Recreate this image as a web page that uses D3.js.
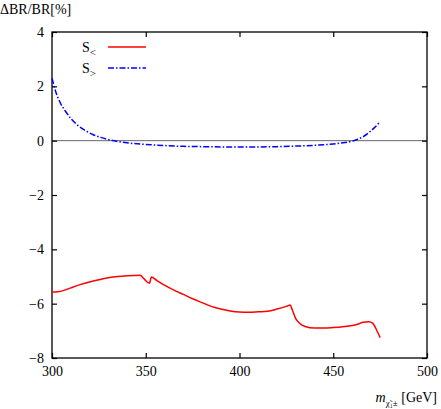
<!DOCTYPE html><html><head><meta charset="utf-8"><script src="https://cdn.jsdelivr.net/npm/d3@7"></script>
<style>body{margin:0;background:#fff}svg text{font-family:"Liberation Serif","DejaVu Serif","Times New Roman",serif !important;font-size:14px}</style></head><body><svg id="c" width="441" height="409"></svg><script>
const xTicks=[300,350,400,450,500];
const yTicks=[-8,-6,-4,-2,0,2,4];
const redX=[300,303,306,310,315,320,325,330,335,340,347,349,352,353,356,360,365,370,375,380,385,390,395,400,405,410,415,420,425,427,428,430,432,435,440,445,450,455,460,463,466,469,471,473,475];
const redY=[-5.57,-5.56,-5.52,-5.42,-5.3,-5.2,-5.12,-5.05,-5.0,-4.97,-4.95,-5.08,-5.25,-5.02,-5.15,-5.32,-5.5,-5.66,-5.82,-5.96,-6.1,-6.2,-6.27,-6.31,-6.32,-6.3,-6.28,-6.2,-6.1,-6.05,-6.2,-6.55,-6.72,-6.84,-6.9,-6.9,-6.88,-6.85,-6.8,-6.76,-6.68,-6.67,-6.72,-6.95,-7.25];
const blueX=[300,302,304,307,310,314,318,322,326,330,335,340,350,360,370,380,390,400,410,420,430,440,450,455,460,463,466,469,472,475];
const blueY=[2.3,1.8,1.45,1.1,0.82,0.55,0.36,0.22,0.12,0.04,-0.03,-0.08,-0.14,-0.18,-0.21,-0.22,-0.23,-0.23,-0.23,-0.22,-0.2,-0.17,-0.12,-0.08,-0.02,0.05,0.15,0.3,0.48,0.7];
const svg=d3.select("#c");
const L=52,R=427,T=32,B=358;
const x=d3.scaleLinear().domain([300,500]).range([L,R]);
const y=d3.scaleLinear().domain([-8,4]).range([B,T]);
svg.append("line").attr("x1",L).attr("x2",R).attr("y1",y(0)).attr("y2",y(0)).attr("stroke","#000").attr("stroke-width",0.6);
const g=svg.append("g");
[[d3.axisBottom(x).tickValues(xTicks),B],[d3.axisTop(x).tickValues(xTicks).tickFormat(""),T]].forEach(([a,p])=>{
 const s=g.append("g").attr("transform",`translate(0,${p})`).call(a.tickSizeInner(-5).tickSizeOuter(0).tickPadding(8));
 s.select(".domain").remove();
});
const la=g.append("g").attr("transform",`translate(${L},0)`).call(d3.axisLeft(y).tickValues(yTicks).tickSizeInner(-5).tickSizeOuter(0).tickPadding(8).tickFormat(d=>d<0?"\u2212"+(-d):d));
la.select(".domain").remove();
const ra=g.append("g").attr("transform",`translate(${R},0)`).call(d3.axisRight(y).tickValues(yTicks).tickSizeInner(-5).tickSizeOuter(0).tickFormat(""));
ra.select(".domain").remove();
g.selectAll("g").attr("font-family",null).attr("font-size",null);
g.selectAll(".tick line").attr("stroke-width",1.2);
g.selectAll(".tick text").attr("fill","#000");
svg.append("rect").attr("x",L).attr("y",T).attr("width",R-L).attr("height",B-T).attr("fill","none").attr("stroke","#000").attr("stroke-width",1.3);
const line=d3.line().x(d=>x(d[0])).y(d=>y(d[1])).curve(d3.curveMonotoneX);
svg.append("path").attr("d",line(redX.map((v,i)=>[v,redY[i]]))).attr("fill","none").attr("stroke","#f00").attr("stroke-width",1.5);
svg.append("path").attr("d",line(blueX.map((v,i)=>[v,blueY[i]]))).attr("fill","none").attr("stroke","#00f").attr("stroke-width",1.5).attr("stroke-dasharray","6,2,1.5,2");
const leg=[["<","#f00",null,47],[">","#00f","6,2,1.5,2",68]];
leg.forEach(([s,c,da,yy])=>{
 const t=svg.append("text").attr("x",82).attr("y",yy+5);
 t.append("tspan").text("S");
 t.append("tspan").text(s).attr("dy",4).style("font-size","11px");
 svg.append("line").attr("x1",108).attr("x2",146).attr("y1",yy).attr("y2",yy).attr("stroke",c).attr("stroke-width",1.5).attr("stroke-dasharray",da);
});
svg.append("text").attr("x",0).attr("y",14).text("\u0394BR/BR[%]");
const xl=svg.append("text").attr("x",437).attr("y",402).attr("text-anchor","end");
xl.append("tspan").text("m").style("font-style","italic");
xl.append("tspan").text("\u03C7\u0303\u2081\u00B1").attr("dy",4).style("font-size","9px");
xl.append("tspan").text(" [GeV]").attr("dy",-4);
</script></body></html>
